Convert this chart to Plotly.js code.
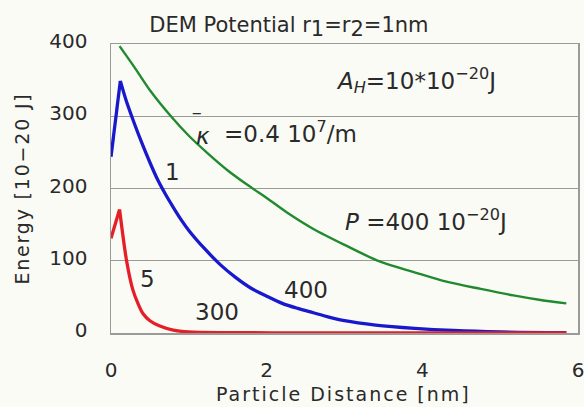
<!DOCTYPE html>
<html>
<head>
<meta charset="utf-8">
<script src="https://cdn.plot.ly/plotly-3.0.1.min.js"></script>
<style>
html,body{margin:0;padding:0;background:#fbfbf6;}
#chart{width:584px;height:407px;}
#chart text.ytitle{letter-spacing:1.8px;}
#chart g.annotation[data-index="9"] text{letter-spacing:2px;}
</style>
</head>
<body>
<div id="chart"></div>
<script>
// Green curve
const greenX = [0.11, 0.3, 0.5, 0.77, 1.0, 1.25, 1.5, 1.78, 2.0, 2.3, 2.6, 3.0, 3.45, 3.9, 4.31, 4.75, 5.17, 5.5, 5.85];
const greenY = [397, 368, 336, 300, 273, 248, 225, 203, 187, 164, 144, 122, 99, 84, 71, 61, 52, 46, 41];
// Blue curve
const blueX = [0, 0.12, 0.2, 0.3, 0.4, 0.5, 0.6, 0.7, 0.8, 0.9, 1.0, 1.2, 1.4, 1.6, 1.8, 2.0, 2.2, 2.4, 2.6, 2.8, 3.0, 3.4, 3.9, 4.4, 5.0, 5.85];
const blueY = [244, 349, 320, 290, 262, 236, 212, 192, 174, 157, 142, 117, 95, 77, 62, 51, 41, 34, 28, 22, 17, 11, 6.5, 3.5, 1.5, 0.5];
// Red curve
const redX = [0, 0.11, 0.2, 0.28, 0.35, 0.41, 0.5, 0.62, 0.8, 1.0, 1.5, 2.5, 4.0, 5.85];
const redY = [131, 171, 100, 60, 40, 27, 17, 10, 4, 1.5, 0.5, 0.2, 0, 0];

const xTicks = [0, 2, 4, 6];
const yTicks = [0, 100, 200, 300, 400];

const FONT = 'DejaVu Sans, Verdana, sans-serif';
const TXT = '#2a2a2a';

// rise segment = first two points (straight), decay = from the peak on (smooth)
function curve(xs, ys, color, width, startsAtPeak) {
  const out = [];
  if (!startsAtPeak) {
    out.push({x: xs.slice(0, 2), y: ys.slice(0, 2), mode: 'lines', line: {color: color, width: width}, hoverinfo: 'skip'});
    out.push({x: xs.slice(1), y: ys.slice(1), mode: 'lines', line: {color: color, width: width, shape: 'spline', smoothing: 0.8}, hoverinfo: 'skip'});
  } else {
    out.push({x: xs, y: ys, mode: 'lines', line: {color: color, width: width, shape: 'spline', smoothing: 0.8}, hoverinfo: 'skip'});
  }
  return out;
}

const traces = [].concat(
  curve(greenX, greenY, '#1f8a2e', 2.4, true),
  curve(blueX, blueY, '#1818cc', 3.3, false),
  curve(redX, redY, '#e51f28', 3.3, false)
);

function ann(text, x, y, extra) {
  return Object.assign({text: text, x: x, y: y, xref: 'x', yref: 'y', showarrow: false,
    font: {family: FONT, size: 23, color: TXT}}, extra || {});
}

const layout = {
  width: 584, height: 407,
  paper_bgcolor: '#fbfbf6', plot_bgcolor: '#fbfbf6',
  showlegend: false,
  margin: {l: 111, r: 6, t: 44, b: 74},
  title: {text: 'DEM Potential r<sub><span style="font-size:21px">1</span></sub>=r<sub><span style="font-size:21px">2</span></sub>=1nm',
          x: 0.381, xref: 'paper', xanchor: 'center',
          y: 0.94, yref: 'container', yanchor: 'middle', font: {family: FONT, size: 21, color: TXT}},
  xaxis: {range: [0, 6], tickvals: xTicks, ticktext: xTicks.map(String), showgrid: false, zeroline: false,
          showline: true, linecolor: '#9a9a9a', linewidth: 1.5, mirror: true, ticks: '', ticklabelstandoff: 18,
          ticklabeloverflow: 'allow',
          tickfont: {family: FONT, size: 20, color: TXT}},
  yaxis: {range: [0, 400], tickvals: yTicks, ticktext: yTicks.map(String), showgrid: true, gridcolor: '#9a9a9a', gridwidth: 1.4,
          zeroline: false, showline: true, linecolor: '#9a9a9a', linewidth: 1.5, mirror: true, ticks: '',
          ticklabelstandoff: 18, ticklabelshift: -3,
          tickfont: {family: FONT, size: 20, color: TXT},
          title: {text: 'Energy [10\u221220 J]', standoff: 14, font: {family: FONT, size: 19, color: TXT}}},
  annotations: [
    ann('<i>A<sub>H</sub></i>=10*10<sup>\u221220</sup>J', 3.92, 349),
    ann('<i>\u03ba</i>', 1.18, 272),
    ann('\u2012', 1.10, 304, {font: {family: FONT, size: 15, color: TXT}}),
    ann('=0.4 10<sup>7</sup>/m', 1.43, 278, {xanchor: 'left'}),
    ann('1', 0.79, 223),
    ann('<i>P</i> =400 10<sup>\u221220</sup>J', 4.05, 157),
    ann('400', 2.50, 59.5),
    ann('5', 0.47, 75),
    ann('300', 1.36, 29.5),
    // x-axis title
    {text: 'Particle Distance [nm]', x: 0.498, y: -0.21, xref: 'paper', yref: 'paper', xanchor: 'center', yanchor: 'middle',
     showarrow: false, font: {family: FONT, size: 19, color: TXT}}
  ]
};

Plotly.newPlot('chart', traces, layout, {staticPlot: true, displayModeBar: false});
</script>
</body>
</html>
